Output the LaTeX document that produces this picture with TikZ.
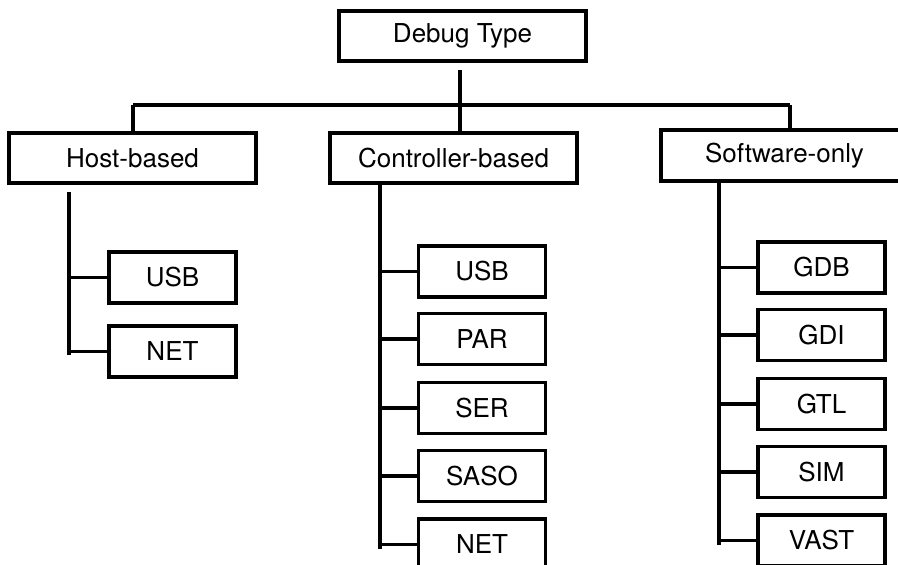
\documentclass[tikz,border=0pt]{standalone}
\usepackage{fontspec}
\setmainfont{TeX Gyre Heros}
\begin{document}
\begin{tikzpicture}[x=0.02cm,y=-0.02cm,line width=2pt,
		box/.style={draw,line width=2pt,inner sep=0pt,font=\fontsize{14.8}{17}\selectfont},
		headbox/.style={box,minimum width=4.94cm,minimum height=1cm},
		leafbox/.style={box,minimum width=2.54cm,minimum height=1.02cm}]
		\clip (0,0) rectangle (898,564);
		% top level
		\node[headbox] (debug) at (462.5,36) {Debug Type};
		\node[headbox] (host) at (132.5,158) {Host-based};
		\node[headbox] (ctrl) at (453.5,158) {Controller-based};
		\node[headbox,minimum height=1.02cm] (soft) at (784.5,155.5) {Software-only};
		% bus
		\coordinate (busL) at (133,105);
		\coordinate (busR) at (790,105);
		\coordinate (busT) at (460,70);
		\draw (busL) -- (busR);
		\draw (busL) -- (busL |- host.north);
		\draw (busR) -- (busR |- soft.north);
		\draw (busT) -- (busT |- ctrl.north);
		% trunks
		\coordinate (hostT) at (69,192);
		\coordinate (ctrlT) at (380,183);
		\coordinate (softT) at (719,181);
		\draw (hostT) -- (69,355);
		\draw (ctrlT) -- (380,549);
		\draw (softT) -- (719,545);
		% leaves
		\foreach \nm/\txt/\yy in {hU/USB/277.5,hN/NET/351.5}{
			\node[leafbox] (\nm) at (172.5,\yy) {\txt};
			\draw (\nm.west) -- (\nm.west -| hostT);
		}
		\foreach \nm/\txt/\yy in {cU/USB/271.5,cP/PAR/339,cS/SER/408,cA/SASO/476,cN/NET/544.5}{
			\node[leafbox] (\nm) at (482,\yy) {\txt};
			\draw (\nm.west) -- (\nm.west -| ctrlT);
		}
		\foreach \nm/\txt/\yy in {sD/GDB/267.5,sI/GDI/335,sT/GTL/404,sS/SIM/472,sV/VAST/540.5}{
			\node[leafbox] (\nm) at (821.5,\yy) {\txt};
			\draw (\nm.west) -- (\nm.west -| softT);
		}
	\end{tikzpicture}
\end{document}
